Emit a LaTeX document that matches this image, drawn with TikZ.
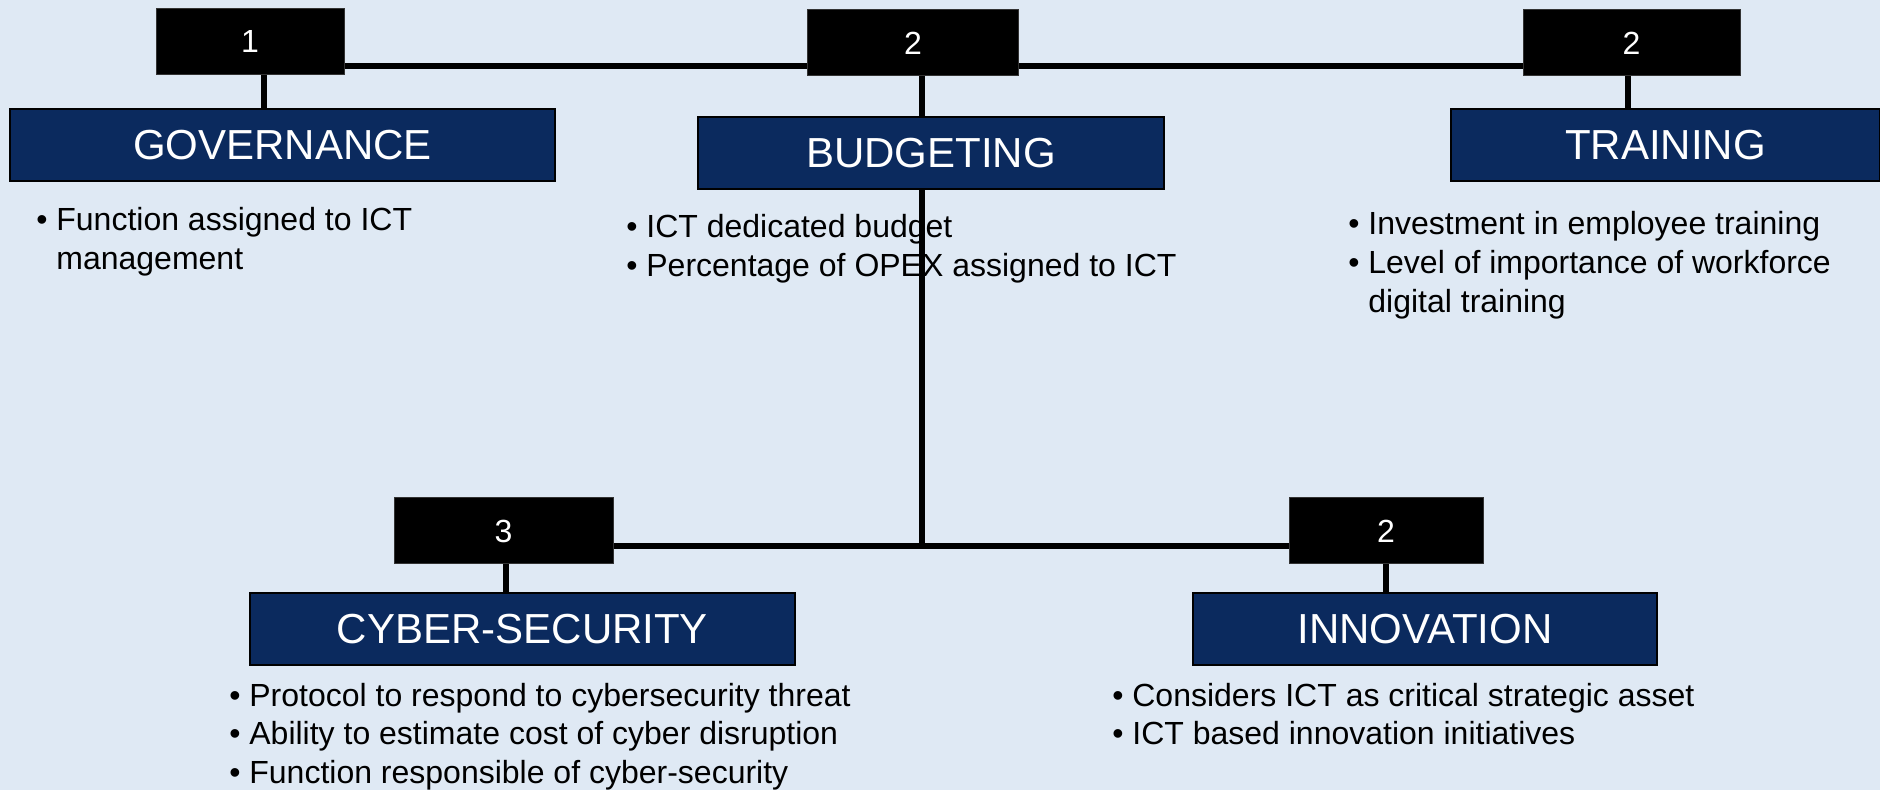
\documentclass[tikz,border=0pt]{standalone}
\usepackage{fontspec}
\setmainfont{Liberation Sans}
\usepackage{tikz}
\usetikzlibrary{backgrounds}
\definecolor{bgblue}{RGB}{223,233,244}
\definecolor{navy}{RGB}{11,42,94}
\tikzset{numbox/.style = {shape=rectangle,fill=black,draw=gray!40!black,line width=0.5pt,text=white,minimum height=33pt,inner sep=0pt,font=\fontsize{16}{19.5}\selectfont}}
\tikzset{titlebox/.style = {shape=rectangle,fill=navy,draw=black,line width=1pt,text=white,minimum height=36pt,inner sep=0pt,font=\fontsize{21}{25}\selectfont}}
\tikzset{bullets/.style = {anchor=base west,inner sep=0pt,font=\fontsize{16}{19.5}\selectfont}}
\tikzset{link/.style = {-,line width=3pt}}
\newcommand{\bpt}{\makebox[10pt][l]{\textbullet}}

\begin{document}
\begin{tikzpicture}[x=0.5pt,y=-0.5pt]
\useasboundingbox (0,0) rectangle (1880,790);
% score boxes
\node[numbox,minimum width=94pt] (n1) at (250,42) {1};
\node[numbox,minimum width=105.5pt] (n2) at (913,43) {2};
\node[numbox,minimum width=108.5pt] (n3) at (1631.5,43) {2};
\node[numbox,minimum width=109.5pt] (n4) at (503.5,531) {3};
\node[numbox,minimum width=97pt] (n5) at (1386,531) {2};

% titles
\node[titlebox,minimum width=272.5pt] (gov) at (282.5,145) {GOVERNANCE};
\node[titlebox,minimum width=233pt] (budget) at (931,153) {BUDGETING};
\node[titlebox,minimum width=214.5pt] (train) at (1665.5,145) {TRAINING};
\node[titlebox,minimum width=272.5pt] (cyber) at (522.5,629) {CYBER-SECURITY};
\node[titlebox,minimum width=232pt] (innov) at (1425,629) {INNOVATION};

\begin{pgfonlayer}{background}
\fill[bgblue] (0,0) rectangle (1880,790);
% bullet lists
\node[bullets] (govtxt) at (36,231) {\begin{tabular}[t]{@{}l@{}l@{}}
\bpt & Function assigned to ICT\\
 & management\end{tabular}};
\node[bullets] (budgettxt) at (626,238) {\begin{tabular}[t]{@{}l@{}l@{}}
\bpt & ICT dedicated budget\\
\bpt & Percentage of OPEX assigned to ICT\end{tabular}};
\node[bullets] (traintxt) at (1348,235) {\begin{tabular}[t]{@{}l@{}l@{}}
\bpt & Investment in employee training\\
\bpt & Level of importance of workforce\\
 & digital training\end{tabular}};
\node[bullets] (cybertxt) at (229,706) {\begin{tabular}[t]{@{}l@{}l@{}}
\bpt & Protocol to respond to cybersecurity threat\\
\bpt & Ability to estimate cost of cyber disruption\\
\bpt & Function responsible of cyber-security\end{tabular}};
\node[bullets] (innovtxt) at (1112,706) {\begin{tabular}[t]{@{}l@{}l@{}}
\bpt & Considers ICT as critical strategic asset\\
\bpt & ICT based innovation initiatives\end{tabular}};

% links
\coordinate (topbar) at (0,66);
\coordinate (lowbar) at (0,546);
\coordinate (trunk) at (922,0);
\draw[link] (n1.east |- topbar) to (n3.west |- topbar);
\draw[link] (n4.east |- lowbar) to (n5.west |- lowbar);
\draw[link] (trunk |- n2.south) to (trunk |- lowbar);
\draw[link] ([xshift=7pt]n1.south) to ([xshift=7pt]n1.south |- gov.north);
\draw[link] ([xshift=-2pt]n3.south) to ([xshift=-2pt]n3.south |- train.north);
\draw[link] ([xshift=1pt]n4.south) to ([xshift=1pt]n4.south |- cyber.north);
\draw[link] (n5.south) to (n5.south |- innov.north);
\end{pgfonlayer}
\end{tikzpicture}
\end{document}
